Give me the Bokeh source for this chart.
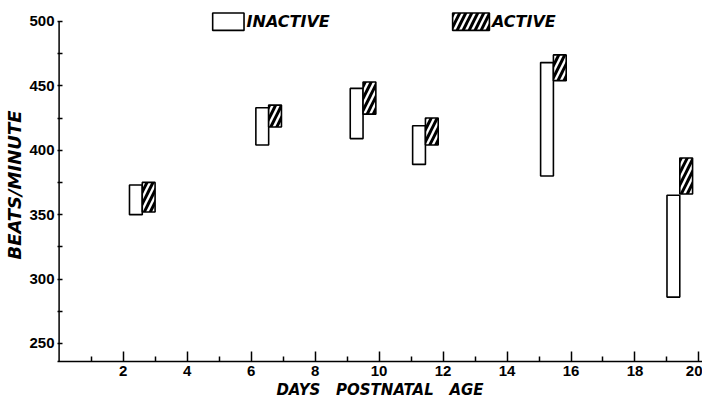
from bokeh.plotting import figure
from bokeh.models import ColumnDataSource, FixedTicker, Range1d
from bokeh.embed import file_html
from bokeh.resources import INLINE
from bokeh.core.properties import value

# ---- data ----
pair_day = [2.6, 6.55, 9.5, 11.45, 15.45, 19.4]          # shared edge of each inactive/active pair (days)
inactive_low = [350, 404, 409, 389, 380, 286]
inactive_high = [373, 433, 448, 419, 468, 365]
active_low = [352, 418, 428, 404, 454, 366]
active_high = [375, 435, 453, 425, 474, 394]

x_ticks = [2, 4, 6, 8, 10, 12, 14, 16, 18, 20]
x_minor = [1, 3, 5, 7, 9, 11, 13, 15, 17, 19]
y_ticks = [250, 300, 350, 400, 450, 500]
y_minor = [275, 325, 375, 425, 475]

x_title = "DAYS\u00a0\u00a0\u00a0POSTNATAL\u00a0\u00a0\u00a0AGE"
y_title = "BEATS/MINUTE"
legend_names = ["INACTIVE", "ACTIVE"]

BAR_W = 0.4
TICK_FONT = "Liberation Sans"
LAB_FONT = "DejaVu Sans"

inactive = ColumnDataSource(dict(
    left=[d - BAR_W for d in pair_day], right=pair_day,
    bottom=inactive_low, top=inactive_high))
active = ColumnDataSource(dict(
    left=pair_day, right=[d + BAR_W for d in pair_day],
    bottom=active_low, top=active_high))

p = figure(width=702, height=405, output_backend="svg", toolbar_location=None,
           x_range=Range1d(-0.05, 20.11), y_range=Range1d(236, 510),
           min_border_left=57, min_border_right=0, min_border_top=8, min_border_bottom=44)
p.outline_line_color = None
p.xgrid.visible = False
p.ygrid.visible = False
p.background_fill_color = "white"
p.border_fill_color = "white"

HATCH = dict(hatch_pattern="/", hatch_color="black", hatch_weight=3, hatch_scale=12)

# bars
p.quad(left="left", right="right", bottom="bottom", top="top", source=inactive,
       fill_color="white", line_color="black", line_width=1.6)
p.quad(left="left", right="right", bottom="bottom", top="top", source=active,
       fill_color="white", line_color="black", line_width=1.6, **HATCH)

# manual y axis line from bottom to 500
p.segment(x0=[0], y0=[236], x1=[0], y1=[500], line_color="black", line_width=1.5)

# axes
xa = p.xaxis[0]
xa.ticker = FixedTicker(ticks=x_ticks, minor_ticks=x_minor)
xa.major_tick_in = 10
xa.major_tick_out = 0
xa.minor_tick_in = 5
xa.minor_tick_out = 0
xa.major_tick_line_width = 1.5
xa.minor_tick_line_width = 1.5
xa.axis_line_width = 1.5
xa.major_label_text_font = TICK_FONT
xa.major_label_text_font_style = "bold"
xa.major_label_text_font_size = "15px"
xa.major_label_text_color = "black"
xa.major_label_standoff = 4
xa.axis_label = x_title
xa.axis_label_text_font = LAB_FONT
xa.axis_label_text_font_style = "bold italic"
xa.axis_label_text_font_size = "15px"
xa.axis_label_text_color = "black"
xa.axis_label_standoff = 2

ya = p.yaxis[0]
ya.ticker = FixedTicker(ticks=y_ticks, minor_ticks=y_minor)
ya.axis_line_color = None
ya.major_tick_in = 5
ya.major_tick_out = 0
ya.minor_tick_in = 5
ya.minor_tick_out = 0
ya.major_tick_line_width = 1.5
ya.minor_tick_line_width = 1.5
ya.major_label_text_font = TICK_FONT
ya.major_label_text_font_style = "bold"
ya.major_label_text_font_size = "15px"
ya.major_label_text_color = "black"
ya.major_label_standoff = 3
ya.axis_label = y_title
ya.axis_label_text_font = LAB_FONT
ya.axis_label_text_font_style = "bold italic"
ya.axis_label_text_font_size = "18px"
ya.axis_label_text_color = "black"
ya.axis_label_standoff = 1

# legend
legend_box_left = [4.8, 12.3]
legend_box_right = [5.78, 13.45]
p.quad(left=[legend_box_left[0]], right=[legend_box_right[0]], bottom=[493], top=[506.5],
       fill_color="white", line_color="black", line_width=1.6)
p.quad(left=[legend_box_left[1]], right=[legend_box_right[1]], bottom=[493], top=[506.5],
       fill_color="white", line_color="black", line_width=1.6, **HATCH)
p.text(x=[r + 0.08 for r in legend_box_right], y=[499.7, 499.7], text=legend_names,
       text_font=value(LAB_FONT), text_font_style="bold italic", text_font_size="16px",
       text_baseline="middle", text_align="left", text_color="black")

open("out.html", "w").write(file_html(p, INLINE))
